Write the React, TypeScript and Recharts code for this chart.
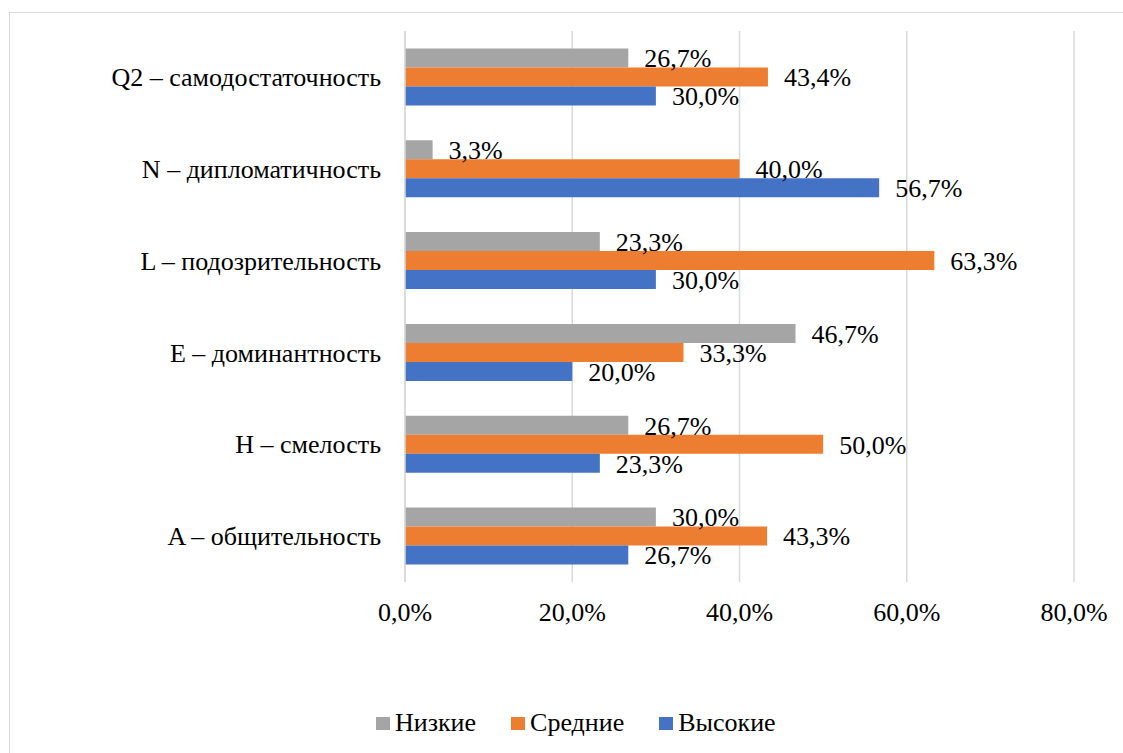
import { BarChart, Bar, XAxis, YAxis, CartesianGrid, LabelList } from 'recharts';

const categories = [
  'Q2 – самодостаточность ',
  'N – дипломатичность',
  'L – подозрительность',
  'E – доминантность',
  'H – смелость',
  'A – общительность',
];
const low = [26.7, 3.3, 23.3, 46.7, 26.7, 30.0];
const mid = [43.4, 40.0, 63.3, 33.3, 50.0, 43.3];
const high = [30.0, 56.7, 30.0, 20.0, 23.3, 26.7];
const xTicks = [0, 20, 40, 60, 80];

const series = [
  { key: 'low', name: 'Низкие', color: '#A5A5A5' },
  { key: 'mid', name: 'Средние', color: '#ED7D31' },
  { key: 'high', name: 'Высокие', color: '#4472C4' },
];

const data = categories.map((name, i) => ({ name, low: low[i], mid: mid[i], high: high[i] }));

const font = 'Liberation Serif';
const pct = (v: any) => Number(v).toFixed(1).replace('.', ',') + '%';

const App = () => (
  <div style={{ position: 'absolute', left: 0, top: 0, width: 1123, height: 753, background: '#fff', overflow: 'hidden' }}>
    <div style={{ position: 'absolute', left: 9, top: 12, width: 1130, height: 760, border: '1px solid #d9d9d9', boxSizing: 'border-box' }} />
    <BarChart
      width={1123}
      height={753}
      data={data}
      layout="vertical"
      margin={{ top: 31, right: 49, bottom: 141, left: 10 }}
      barCategoryGap="19%"
      barGap={0}
      style={{ position: 'absolute', left: 0, top: 0 }}
    >
      <CartesianGrid horizontal={false} stroke="#d9d9d9" strokeWidth={1.5} />
      <XAxis
        type="number"
        domain={[0, 80]}
        ticks={xTicks}
        tickFormatter={pct}
        axisLine={false}
        tickLine={false}
        tickMargin={15}
        tick={{ fill: '#000', fontSize: 26, fontFamily: font }}
      />
      <YAxis
        type="category"
        dataKey="name"
        width={395}
        axisLine={{ stroke: '#d9d9d9', strokeWidth: 1.5 }}
        tickLine={false}
        tickMargin={18}
        tick={{ fill: '#000', fontSize: 26, fontFamily: font }}
      />
      {series.map((s) => (
        <Bar key={s.key} dataKey={s.key} name={s.name} fill={s.color} isAnimationActive={false}>
          <LabelList
            dataKey={s.key}
            position="right"
            offset={16}
            formatter={pct}
            style={{ fill: '#000', fontSize: 26, fontFamily: font }}
          />
        </Bar>
      ))}
    </BarChart>
    <div style={{ position: 'absolute', left: 376, top: 708, display: 'flex', alignItems: 'center', fontSize: 26, fontFamily: font, color: '#000' }}>
      {series.map((s) => (
        <div key={s.key} style={{ display: 'flex', alignItems: 'center', marginRight: 35 }}>
          <span style={{ display: 'inline-block', width: 14, height: 13, background: s.color, marginRight: 5 }} />
          <span>{s.name}</span>
        </div>
      ))}
    </div>
  </div>
);

export default App;
